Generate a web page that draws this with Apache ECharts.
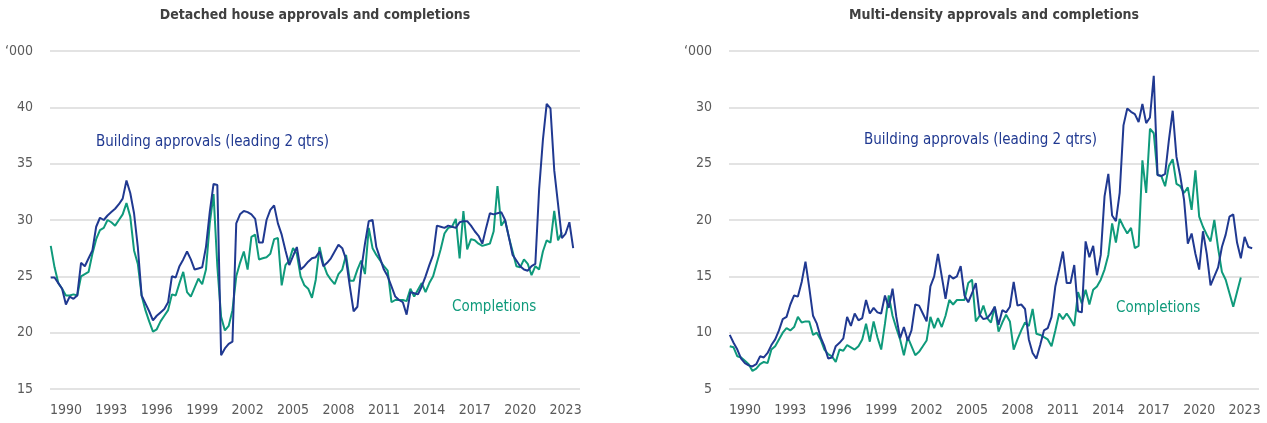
<!DOCTYPE html>
<html>
<head>
<meta charset="utf-8">
<script src="https://cdn.jsdelivr.net/npm/echarts@6/dist/echarts.min.js"></script>
<style>
  html, body { margin: 0; padding: 0; background: #fff; }
  #chart { width: 1267px; height: 423px; }
</style>
</head>
<body>
<div id="chart"></div>
<script>
const FIRST_YEAR = 1989; // first quarter shown is 1989 Q1
const yearLabels = [1990, 1993, 1996, 1999, 2002, 2005, 2008, 2011, 2014, 2017, 2020, 2023];

// '000 dwellings, quarterly from 1989 Q1 (approvals lead 2 qtrs)
const detachedApprovals = [
  24.9, 24.9, 24.4, 23.9, 22.5, 23.2, 23.0, 23.3, 26.2, 25.9,
  26.6, 27.3, 29.4, 30.2, 30.0, 30.4, 30.7, 31.0, 31.4, 31.9,
  33.5, 32.4, 30.6, 27.6, 23.3, 22.6, 21.9, 21.1, 21.5, 21.8,
  22.1, 22.7, 25.0, 24.9, 25.9, 26.5, 27.2, 26.5, 25.6, 25.7,
  25.8, 27.6, 30.7, 33.2, 33.1, 18.0, 18.6, 19.0, 19.2, 29.7,
  30.5, 30.8, 30.7, 30.5, 30.1, 28.0, 28.0, 30.0, 30.9, 31.3,
  29.7, 28.7, 27.3, 26.0, 26.8, 27.6, 25.6, 25.9, 26.3, 26.6,
  26.7, 27.2, 25.9, 26.2, 26.6, 27.2, 27.8, 27.5, 26.5, 24.1,
  21.9, 22.3, 25.6, 27.9, 29.9, 30.0, 27.6, 26.6, 25.6, 25.0,
  24.1, 23.2, 22.9, 22.7, 21.6, 23.6, 23.5, 23.4, 24.1, 25.0,
  26.0, 26.9, 29.5, 29.4, 29.3, 29.5, 29.4, 29.3, 29.8, 29.9,
  29.9, 29.5, 29.0, 28.6, 27.9, 29.3, 30.6, 30.5, 30.6, 30.7,
  30.0, 28.5, 26.9, 26.4, 25.9, 25.6, 25.5, 25.9, 26.1, 32.7,
  37.1, 40.3, 39.9, 34.4, 31.4, 28.4, 28.8, 29.8, 27.5
];
const detachedCompletions = [
  27.7, 25.8, 24.4, 23.9, 23.3, 23.3, 23.4, 23.3, 25.0, 25.2,
  25.4, 27.0, 28.3, 29.1, 29.3, 30.0, 29.8, 29.5, 30.0, 30.5,
  31.5, 30.3, 27.3, 26.1, 23.3, 22.0, 21.0, 20.1, 20.3, 21.0,
  21.5, 22.0, 23.4, 23.3, 24.4, 25.4, 23.6, 23.2, 24.0, 24.8,
  24.3, 25.6, 29.7, 32.3, 25.9, 21.4, 20.2, 20.6, 22.0, 25.0,
  26.2, 27.2, 25.6, 28.5, 28.7, 26.5, 26.6, 26.7, 27.0, 28.3,
  28.4, 24.2, 26.0, 26.4, 27.5, 27.0, 25.0, 24.2, 23.9, 23.1,
  24.7, 27.6, 26.1, 25.2, 24.7, 24.3, 25.2, 25.6, 26.9, 24.6,
  24.6, 25.6, 26.4, 25.2, 29.3, 27.5, 26.9, 26.4, 25.9, 25.5,
  22.7, 22.9, 22.9, 22.9, 22.8, 23.9, 23.2, 23.8, 24.4, 23.6,
  24.4, 25.0, 26.2, 27.4, 28.8, 29.3, 29.4, 30.1, 26.6, 30.8,
  27.4, 28.3, 28.2, 27.9, 27.7, 27.8, 27.9, 29.0, 33.0, 29.5,
  30.0, 28.5, 27.2, 25.9, 25.8, 26.5, 26.1, 25.1, 25.9, 25.6,
  27.2, 28.2, 28.0, 30.8, 28.2, 28.9
];
const multiApprovals = [
  9.8, 9.1, 8.5, 7.7, 7.3, 7.1, 7.0, 7.2, 7.9, 7.8,
  8.2, 8.9, 9.4, 10.2, 11.2, 11.4, 12.5, 13.3, 13.2, 14.5,
  16.3, 14.0, 11.5, 10.8, 9.6, 8.8, 7.7, 7.8, 8.8, 9.1,
  9.5, 11.4, 10.6, 11.7, 11.1, 11.3, 12.9, 11.7, 12.2, 11.8,
  11.7, 13.3, 12.2, 13.9, 11.4, 9.5, 10.5, 9.3, 10.2, 12.5,
  12.4, 11.7, 11.0, 14.1, 15.0, 17.0, 15.0, 13.0, 15.1, 14.8,
  15.0, 15.9, 13.3, 12.7, 13.5, 14.4, 11.6, 11.2, 11.3, 11.7,
  12.3, 10.7, 12.0, 11.8, 12.3, 14.5, 12.4, 12.5, 12.1, 9.4,
  8.2, 7.7, 8.9, 10.2, 10.4, 11.4, 14.1, 15.6, 17.2, 14.4,
  14.4, 16.0, 11.9, 11.8, 18.1, 16.7, 17.7, 15.1, 16.9, 22.1,
  24.1, 20.4, 19.9, 22.4, 28.4, 29.9, 29.6, 29.4, 28.7, 30.3,
  28.6, 29.1, 32.8, 24.0, 23.9, 24.1, 27.1, 29.7, 25.6, 23.9,
  21.8, 17.9, 18.8, 17.0, 15.6, 19.0, 17.0, 14.2, 15.0, 15.8,
  17.6, 18.7, 20.3, 20.5, 18.0, 16.6, 18.5, 17.6, 17.5
];
const multiCompletions = [
  8.8, 8.7, 7.9, 7.8, 7.5, 7.2, 6.6, 6.8, 7.2, 7.4,
  7.3, 8.5, 8.8, 9.4, 10.0, 10.4, 10.2, 10.5, 11.4, 10.9,
  11.0, 11.0, 9.8, 10.0, 9.4, 8.5, 8.1, 7.9, 7.4, 8.5,
  8.4, 8.9, 8.7, 8.5, 8.8, 9.4, 10.8, 9.2, 11.0, 9.6,
  8.5, 10.8, 13.3, 11.5, 10.4, 9.4, 8.0, 9.6, 8.8, 8.0,
  8.3, 8.8, 9.3, 11.4, 10.4, 11.3, 10.5, 11.5, 12.9, 12.5,
  12.9, 12.9, 12.9, 14.4, 14.7, 11.0, 11.5, 12.4, 11.3, 10.9,
  12.3, 10.1, 10.9, 11.6, 11.0, 8.5, 9.4, 10.2, 10.9, 10.6,
  12.1, 9.9, 9.8, 9.6, 9.4, 8.8, 10.2, 11.7, 11.2, 11.7,
  11.2, 10.6, 13.6, 12.6, 13.8, 12.5, 13.8, 14.1, 14.7, 15.6,
  16.9, 19.7, 18.0, 20.1, 19.4, 18.8, 19.3, 17.5, 17.7, 25.3,
  22.4, 28.1, 27.7, 24.0, 23.9, 23.0, 24.8, 25.4, 23.2, 23.0,
  22.4, 22.9, 20.9, 24.4, 20.3, 19.4, 18.7, 18.1, 20.0, 17.5,
  15.4, 14.7, 13.5, 12.3, 13.6, 14.9
];

// quarter start as a decimal year: 1989 Q1 -> 1989, 1989 Q2 -> 1989.25 ...
const quarters = [];
for (let i = 0; i < detachedApprovals.length; i++) {
  quarters.push(FIRST_YEAR + Math.floor(i / 4) + (i % 4) / 4);
}

const NAVY = '#203991';
const TEAL = '#0f9a7b';
const LABEL = '#5a5a5a';
const NARROW = "'Liberation Sans Narrow', 'Arial Narrow', 'DejaVu Sans Condensed', sans-serif";

const toPoints = (vals) => vals.map((v, i) => [quarters[i], v]);

const makeX = (gridIndex) => ({
  type: 'value',
  gridIndex,
  min: 1988.95,
  max: 2023.95,
  axisLine: { show: false },
  axisTick: { show: false },
  splitLine: { show: false },
  axisLabel: {
    customValues: yearLabels,
    formatter: (v) => String(v),
    color: LABEL,
    fontSize: 14,
    fontFamily: NARROW,
    margin: 14,
  },
});

const makeY = (gridIndex, min, max) => ({
  type: 'value',
  gridIndex,
  min,
  max,
  interval: 5,
  axisLine: { show: false },
  axisTick: { show: false },
  splitLine: { lineStyle: { color: '#e3e3e3', width: 2 } },
  axisLabel: {
    formatter: (v) => (v === max ? '\u2018000' : String(v)),
    color: LABEL,
    fontSize: 14,
    fontFamily: NARROW,
    margin: 17,
  },
});

const makeLine = (data, color, idx) => ({
  type: 'line',
  xAxisIndex: idx,
  yAxisIndex: idx,
  data: toPoints(data),
  showSymbol: false,
  silent: true,
  lineStyle: { color, width: 2 },
  itemStyle: { color },
});

const label = (text, x, y, color) => ({
  type: 'text',
  x,
  y,
  style: { text, fill: color, font: '15px ' + NARROW, align: 'left', verticalAlign: 'middle' },
});

const title = (text, x) => ({
  type: 'text',
  x,
  y: 15,
  style: { text, fill: '#404040', font: 'bold 14px ' + NARROW, align: 'center', verticalAlign: 'middle' },
});

const chart = echarts.init(document.getElementById('chart'));
chart.setOption({
  animation: false,
  grid: [
    { left: 50, top: 51, width: 530, height: 338 },
    { left: 729, top: 51, width: 530, height: 338 },
  ],
  xAxis: [makeX(0), makeX(1)],
  yAxis: [makeY(0, 15, 45), makeY(1, 5, 35)],
  series: [
    makeLine(detachedCompletions, TEAL, 0),
    makeLine(detachedApprovals, NAVY, 0),
    makeLine(multiCompletions, TEAL, 1),
    makeLine(multiApprovals, NAVY, 1),
  ],
  graphic: [
    title('Detached house approvals and completions', 315),
    title('Multi-density approvals and completions', 994),
    label('Building approvals (leading 2 qtrs)', 96, 142, NAVY),
    label('Completions', 452, 307, TEAL),
    label('Building approvals (leading 2 qtrs)', 864, 140, NAVY),
    label('Completions', 1116, 308, TEAL),
  ],
});
</script>
</body>
</html>
